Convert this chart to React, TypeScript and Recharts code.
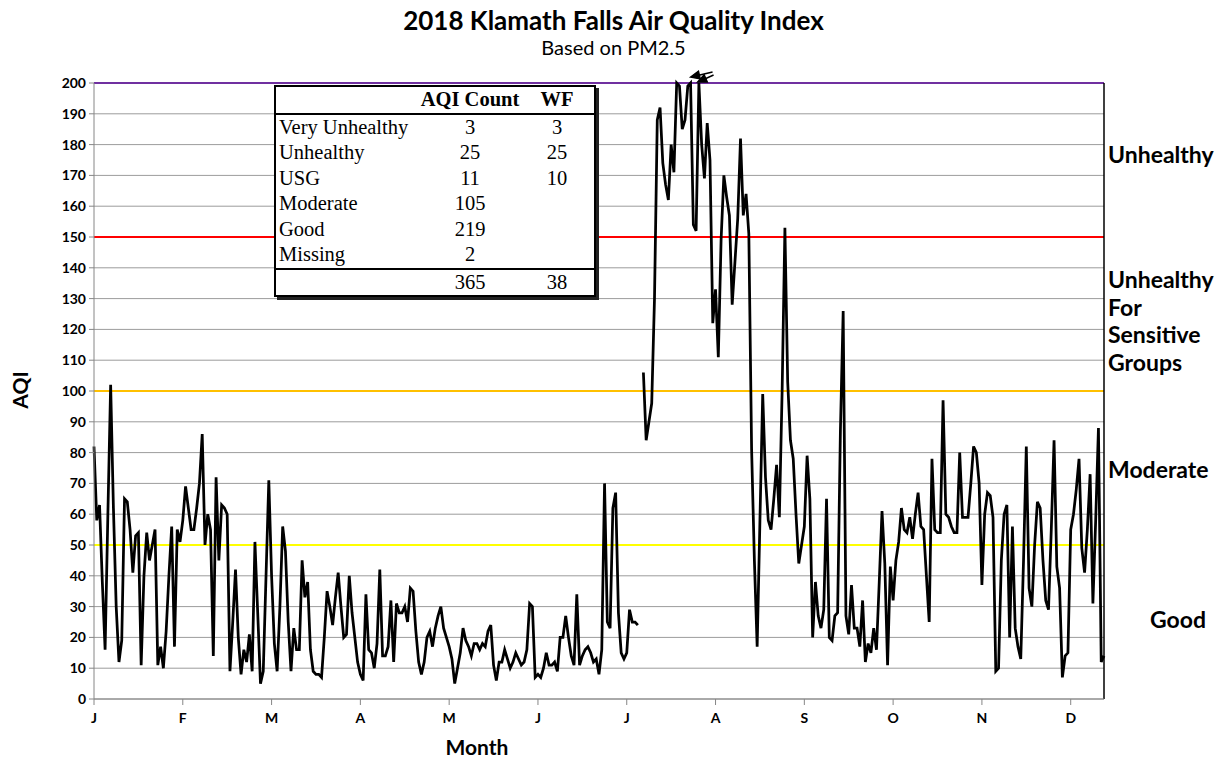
import React from "react";
import {
  LineChart,
  Line,
  XAxis,
  YAxis,
  CartesianGrid,
  ReferenceLine,
  ReferenceDot,
} from "recharts";

// daily PM2.5 AQI, 2018 (null = missing day)
const jan = [82, 58, 63, 38, 16, 60, 102, 62, 30, 12, 19, 65, 64, 55, 41, 53, 54, 11, 40, 54, 45, 50, 55, 11, 17, 10, 22, 40, 56, 17, 55];
const feb = [51, 58, 69, 62, 55, 55, 62, 70, 86, 50, 60, 55, 14, 72, 45, 63, 62, 60, 9, 25, 42, 20, 8, 16, 12, 21, 9, 51];
const mar = [28, 5, 9, 40, 71, 40, 18, 9, 30, 56, 48, 25, 9, 23, 16, 16, 45, 33, 38, 16, 9, 8, 8, 7, 20, 35, 30, 24, 33, 41, 30];
const apr = [20, 21, 40, 28, 20, 12, 8, 6, 34, 16, 15, 10, 18, 42, 14, 14, 17, 32, 12, 31, 28, 28, 30, 25, 36, 35, 22, 12, 8, 12];
const may = [20, 22, 17, 23, 27, 30, 23, 20, 17, 13, 5, 10, 15, 23, 19, 17, 14, 18, 18, 16, 18, 17, 22, 24, 11, 6, 12, 12, 16, 13, 10];
const jun = [12, 15, 13, 11, 12, 16, 31, 30, 7, 8, 7, 10, 15, 11, 11, 12, 9, 20, 20, 27, 20, 14, 11, 34, 11, 14, 16, 17, 15, 12];
const jul = [13, 8, 16, 70, 25, 23, 62, 67, 28, 15, 13, 15, 29, 25, 25, 24, null, 106, 84, 90, 96, 130, 188, 192, 174, 167, 162, 180, 171, 200, 199];
const aug = [185, 188, 199, 200, 154, 152, 200, 180, 169, 187, 175, 122, 133, 111, 149, 170, 163, 157, 128, 142, 156, 182, 157, 164, 151, 81, 45, 17, 58, 99, 72];
const sep = [58, 55, 65, 76, 59, 100, 153, 103, 84, 78, 60, 44, 50, 56, 79, 65, 20, 38, 27, 23, 29, 65, 20, 19, 27, 28, 87, 126, 27, 21];
const oct = [37, 23, 23, 17, 32, 12, 18, 15, 23, 16, 38, 61, 44, 11, 43, 32, 45, 51, 62, 55, 54, 59, 52, 60, 67, 56, 55, 40, 25, 78, 55];
const nov = [54, 54, 97, 60, 59, 56, 54, 54, 80, 59, 59, 59, 70, 82, 80, 70, 37, 60, 67, 66, 59, 9, 10, 45, 60, 63, 20, 56, 23, 17];
const dec = [13, 45, 82, 36, 30, 50, 64, 62, 45, 32, 29, 55, 84, 43, 36, 7, 14, 15, 55, 60, 68, 78, 49, 41, 55, 73, 31, 58, 88, 12, 14];

const monthLetters = ["J", "F", "M", "A", "M", "J", "J", "A", "S", "O", "N", "D"];
const tickDays = [0, 32, 64, 96, 128, 160, 192, 224, 256, 288, 320, 352];
const yTicks = [0, 10, 20, 30, 40, 50, 60, 70, 80, 90, 100, 110, 120, 130, 140, 150, 160, 170, 180, 190, 200];

const breakpoints = [200, 150, 100, 50];
const breakColors = ["#7030a0", "#ff0000", "#ffc000", "#ffff00"];

const tableLabels = ["Very Unhealthy", "Unhealthy", "USG", "Moderate", "Good", "Missing"];
const tableCounts = [3, 25, 11, 105, 219, 2];
const tableWF = [3, 25, 10, null, null, null];
const totalCount = 365;
const totalWF = 38;

const daily = [...jan, ...feb, ...mar, ...apr, ...may, ...jun, ...jul, ...aug, ...sep, ...oct, ...nov, ...dec].map(
  (aqi, day) => ({ day, aqi })
);

const FONT = "Lato, 'Open Sans', sans-serif";
const axisTick = { fill: "#000", fontSize: 14, fontWeight: 700, fontFamily: FONT };

// the two little arrows at the top marking days that ran off the scale
function OffScaleArrows(props: any) {
  const { cx, cy } = props;
  if (cx == null || cy == null) return null;
  return (
    <g stroke="#000" fill="#000" strokeWidth={1.4}>
      <line x1={cx + 22} y1={cy - 11} x2={cx + 5} y2={cy - 7} />
      <polygon points={`${cx},${cy - 6} ${cx + 9.7},${cy - 4.1} ${cx + 7.9},${cy - 11.9}`} />
      <line x1={cx + 23} y1={cy - 8} x2={cx + 12} y2={cy - 3} />
      <polygon points={`${cx + 7},${cy - 1} ${cx + 16.8},${cy - 0.9} ${cx + 13.6},${cy - 8.3}`} />
    </g>
  );
}

const cell: React.CSSProperties = { height: 25.5, lineHeight: "25.5px" };

function SummaryTable() {
  return (
    <div
      style={{
        position: "absolute",
        left: 274,
        top: 85,
        width: 318,
        border: "2px solid #000",
        background: "#fff",
        boxShadow: "3px 3px 0 #222",
        fontFamily: "'Liberation Serif', 'Times New Roman', serif",
        fontSize: 20.5,
        color: "#000",
      }}
    >
      <div style={{ display: "flex", ...cell, borderBottom: "2px solid #000", fontWeight: 700 }}>
        <div style={{ width: 144 }} />
        <div style={{ width: 100, textAlign: "center", whiteSpace: "nowrap" }}>AQI Count</div>
        <div style={{ width: 74, textAlign: "center" }}>WF</div>
      </div>
      {tableLabels.map((label, i) => (
        <div key={label} style={{ display: "flex", ...cell }}>
          <div style={{ width: 141, paddingLeft: 3, whiteSpace: "nowrap" }}>{label}</div>
          <div style={{ width: 100, textAlign: "center" }}>{tableCounts[i]}</div>
          <div style={{ width: 74, textAlign: "center" }}>{tableWF[i] ?? ""}</div>
        </div>
      ))}
      <div style={{ display: "flex", ...cell, borderTop: "2px solid #000" }}>
        <div style={{ width: 144 }} />
        <div style={{ width: 100, textAlign: "center" }}>{totalCount}</div>
        <div style={{ width: 74, textAlign: "center" }}>{totalWF}</div>
      </div>
    </div>
  );
}

const sideLabel: React.CSSProperties = {
  position: "absolute",
  left: 1108,
  fontSize: 23,
  fontWeight: 700,
  lineHeight: "27.5px",
};

export default function App() {
  return (
    <div style={{ position: "relative", width: 1227, height: 761, background: "#fff", fontFamily: FONT, color: "#000" }}>
      <style>{"body{margin:0}"}</style>
      <div style={{ position: "absolute", top: 5, width: "100%", textAlign: "center", fontSize: 26, fontWeight: 700, lineHeight: "30px" }}>
        2018 Klamath Falls Air Quality Index
      </div>
      <div style={{ position: "absolute", top: 35, width: "100%", textAlign: "center", fontSize: 20, lineHeight: "24px" }}>
        Based on PM2.5
      </div>

      <LineChart width={1227} height={761} data={daily} margin={{ top: 83, right: 123, bottom: 32, left: 54 }}>
        <CartesianGrid vertical={false} stroke="#9c9c9c" />
        <XAxis
          type="number"
          dataKey="day"
          domain={[0, 364]}
          ticks={tickDays}
          interval={0}
          tickFormatter={(d: number) => monthLetters[tickDays.indexOf(d)]}
          stroke="#868686"
          tick={axisTick}
          tickSize={6}
          tickMargin={8}
          height={30}
        />
        <YAxis
          type="number"
          domain={[0, 200]}
          ticks={yTicks}
          interval={0}
          stroke="#868686"
          tick={axisTick}
          tickSize={5}
          tickMargin={3}
          width={40}
        />
        {breakpoints.map((v, i) => (
          <ReferenceLine key={v} y={v} stroke={breakColors[i]} strokeWidth={2} />
        ))}
        <ReferenceLine x={364} stroke="#000" strokeWidth={1.5} />
        <Line
          type="linear"
          dataKey="aqi"
          stroke="#000"
          strokeWidth={2.75}
          dot={false}
          activeDot={false}
          connectNulls={false}
          isAnimationActive={false}
        />
        <ReferenceDot x={215} y={200} r={0} ifOverflow="visible" shape={OffScaleArrows} />
      </LineChart>

      <SummaryTable />

      <div style={{ position: "absolute", left: 0, top: 377, width: 40, textAlign: "center", fontSize: 21, fontWeight: 700, lineHeight: "26px", transform: "rotate(-90deg)" }}>
        AQI
      </div>
      <div style={{ position: "absolute", left: 377, top: 734, width: 200, textAlign: "center", fontSize: 21, fontWeight: 700, lineHeight: "26px" }}>
        Month
      </div>

      <div style={{ ...sideLabel, top: 141 }}>Unhealthy</div>
      <div style={{ ...sideLabel, top: 266 }}>
        Unhealthy
        <br />
        For
        <br />
        Sensitive
        <br />
        Groups
      </div>
      <div style={{ ...sideLabel, top: 456 }}>Moderate</div>
      <div style={{ ...sideLabel, left: 1150, top: 606 }}>Good</div>
    </div>
  );
}
